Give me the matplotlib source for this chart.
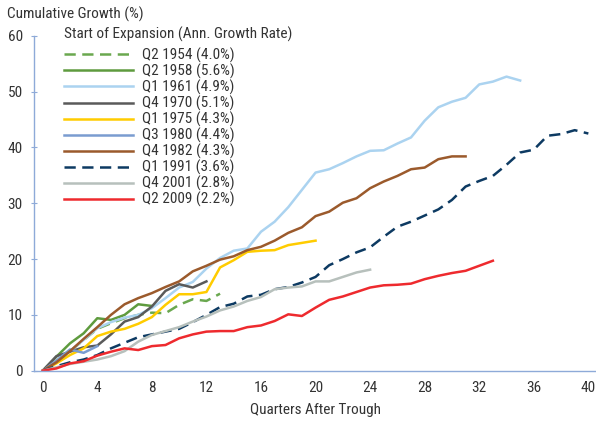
import matplotlib
matplotlib.use("Agg")
import matplotlib.pyplot as plt

plt.rcParams['font.family'] = ['Roboto Condensed', 'DejaVu Sans']

# ---- data (cumulative growth %, by quarter after trough) ----
labels = ["Q2 1954 (4.0%)", "Q2 1958 (5.6%)", "Q1 1961 (4.9%)", "Q4 1970 (5.1%)",
          "Q1 1975 (4.3%)", "Q3 1980 (4.4%)", "Q4 1982 (4.3%)", "Q1 1991 (3.6%)",
          "Q4 2001 (2.8%)", "Q2 2009 (2.2%)"]

s1954 = [0, 1.5, 3.5, 5.5, 7.5, 8.5, 9.4, 10.0, 10.4, 10.3, 11.8, 12.8, 12.5, 13.8]
s1958 = [0, 2.5, 4.9, 6.7, 9.4, 9.1, 10.0, 11.9, 11.6]
s1961 = [0, 1.5, 3.5, 5.5, 7.6, 8.7, 9.5, 10.0, 11.2, 13.0, 14.9, 15.9, 18.3, 20.2,
         21.5, 21.9, 24.9, 26.7, 29.3, 32.4, 35.5, 36.1, 37.2, 38.4, 39.4, 39.5,
         40.7, 41.8, 44.8, 47.2, 48.2, 48.9, 51.3, 51.8, 52.7, 52.0]
s1970 = [0, 2.6, 3.4, 4.2, 4.5, 6.5, 8.8, 9.6, 11.5, 14.3, 15.5, 14.9, 16.0]
s1975 = [0, 1.3, 2.8, 4.0, 6.2, 7.0, 7.5, 8.4, 9.6, 11.8, 13.7, 13.7, 14.1, 18.5,
         19.8, 21.3, 21.5, 21.6, 22.5, 22.9, 23.3]
s1980 = [0, 1.8, 3.8, 3.2, 4.4]
s1982 = [0, 1.5, 3.5, 5.7, 7.8, 10.0, 11.9, 13.0, 13.9, 15.0, 16.0, 17.8, 18.8,
         19.9, 20.5, 21.6, 22.2, 23.3, 24.7, 25.7, 27.7, 28.5, 30.1, 30.9, 32.7,
         33.9, 34.9, 36.1, 36.4, 37.9, 38.4, 38.4]
s1991 = [0, 0.8, 1.5, 2.0, 2.8, 4.0, 5.0, 6.0, 6.5, 7.0, 7.5, 8.7, 10.0, 11.4,
         12.0, 13.3, 13.6, 14.6, 15.0, 15.8, 16.8, 18.9, 20.0, 21.2, 22.1, 24.0,
         25.8, 26.7, 27.8, 28.9, 30.6, 33.0, 34.0, 34.9, 36.9, 39.1, 39.6, 42.1,
         42.4, 43.1, 42.5]
s2001 = [0, 0.6, 1.2, 1.6, 2.0, 2.6, 3.5, 5.2, 6.4, 7.1, 7.8, 8.8, 9.7, 10.8,
         11.5, 12.5, 13.2, 14.6, 14.9, 15.1, 16.0, 16.0, 16.8, 17.6, 18.1]
s2009 = [0, 0.4, 1.3, 1.7, 2.7, 3.4, 4.0, 3.7, 4.4, 4.6, 5.8, 6.5, 7.0, 7.1, 7.1,
         7.8, 8.1, 8.9, 10.1, 9.8, 11.3, 12.7, 13.3, 14.1, 14.9, 15.3, 15.4, 15.6,
         16.4, 17.0, 17.5, 17.9, 18.8, 19.7]

series = [s1954, s1958, s1961, s1970, s1975, s1980, s1982, s1991, s2001, s2009]
colors = ["#6aa84f", "#5e9b3e", "#abd3f0", "#5a5a5a", "#ffcc00", "#7a9cd0",
          "#9b5a2c", "#0d3a62", "#b7c0bc", "#ee2a2e"]
dashed = [True, False, False, False, False, False, False, True, False, False]

xticks = [0, 4, 8, 12, 16, 20, 24, 28, 32, 36, 40]
yticks = [0, 10, 20, 30, 40, 50, 60]

FS = 11
fig = plt.figure(figsize=(5.96, 4.22), dpi=100)
ax = fig.add_axes([0.0576, 0.1216, 0.9424, 0.7934])

for vals, c, d, lab in zip(series, colors, dashed, labels):
    x = list(range(len(vals)))
    if d:
        ax.plot(x, vals, color=c, lw=1.8, dashes=(4.5, 2.6), label=lab,
                dash_capstyle='butt')
    else:
        ax.plot(x, vals, color=c, lw=1.8, label=lab)

ax.set_xlim(-0.616, 40.56)
ax.set_ylim(0, 60)
ax.set_xticks(xticks)
ax.set_yticks(yticks)
txtc = "#333333"
spc = "#8eaad8"
for s in ["top", "right"]:
    ax.spines[s].set_visible(False)
for s in ["left", "bottom"]:
    ax.spines[s].set_color(spc)
    ax.spines[s].set_linewidth(1.0)
ax.tick_params(axis='y', direction='inout', length=5, color=spc, labelsize=FS,
               labelcolor=txtc, pad=5.8)
ax.tick_params(axis='x', length=0, labelsize=FS, labelcolor=txtc, pad=7.5)
ax.set_xlabel("Quarters After Trough", fontsize=FS, color=txtc, labelpad=5.5)

fig.text(7 / 596, 1 - 14 / 422, "Cumulative Growth (%)", fontsize=FS, color=txtc,
         ha='left', va='center')

leg = ax.legend(loc='upper left', bbox_to_anchor=(64 / 596, 1 - 27 / 422),
                bbox_transform=fig.transFigure, frameon=False,
                title="Start of Expansion (Ann. Growth Rate)",
                fontsize=FS, title_fontsize=FS, handlelength=4.5,
                handletextpad=0.6, labelspacing=0.045, borderaxespad=0,
                borderpad=0)
leg.get_title().set_color(txtc)
for t in leg.get_texts():
    t.set_color(txtc)
leg._legend_box.align = "left"
leg._legend_box.sep = 4

fig.savefig("out.png", dpi=100)
